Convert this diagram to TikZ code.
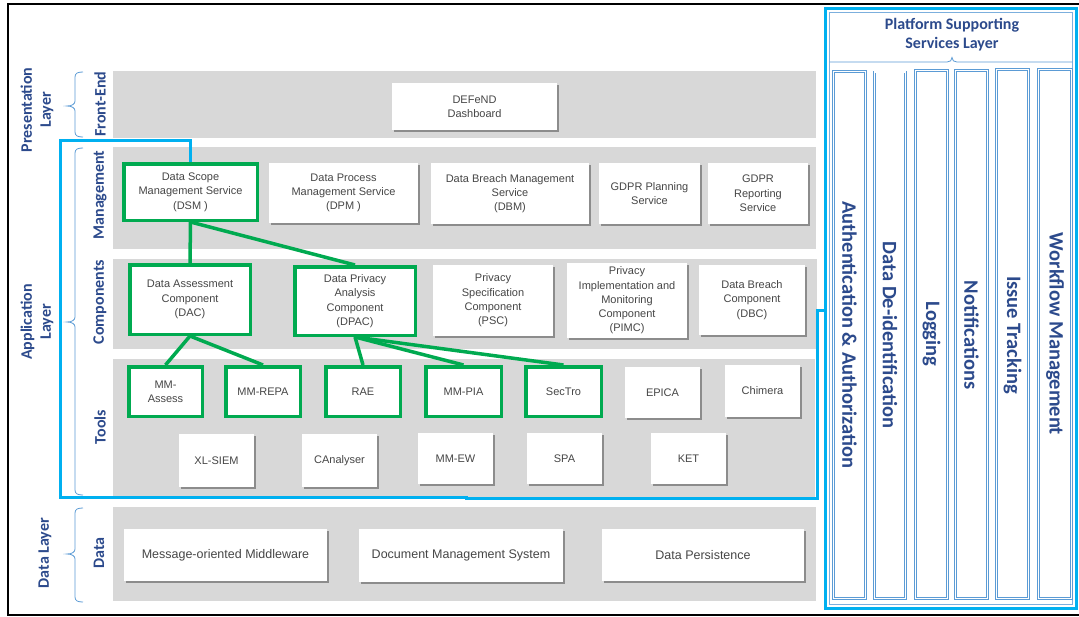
\documentclass[tikz,border=0pt]{standalone}
\usepackage{fontspec}
\setmainfont{Liberation Sans}
\newfontfamily\calib{Carlito}
\usetikzlibrary{shadows}
\definecolor{bandgray}{RGB}{216,216,216}
\definecolor{boxtext}{RGB}{70,70,70}
\definecolor{gbord}{RGB}{0,170,80}
\definecolor{skyblue}{RGB}{0,176,240}
\definecolor{lblue}{RGB}{91,155,213}
\definecolor{navy}{RGB}{44,74,140}
\tikzset{
  band/.style={fill=bandgray},
  wbox/.style={fill=white, draw=none, inner sep=0pt, align=center, text=boxtext,
    font=\fontsize{11}{14.3}\selectfont,
    drop shadow={shadow xshift=1.8pt, shadow yshift=-1.8pt, fill=black, opacity=0.35}},
  gbox/.style={fill=white, draw=gbord, line width=3.5pt, inner sep=0pt, align=center, text=boxtext,
    font=\fontsize{11}{14.3}\selectfont},
  dbox/.style={wbox, font=\fontsize{12.5}{15}\selectfont},
  conn/.style={draw=gbord, line width=3.5pt},
  bluepath/.style={draw=skyblue, line width=3pt},
  layerlbl/.style={text=navy, font=\calib\bfseries\fontsize{16}{19}\selectfont, align=center, rotate=90},
  collbl/.style={text=navy, font=\calib\bfseries\fontsize{20.5}{24}\selectfont, rotate=-90},
  colbox/.style={draw=lblue, double=white, double distance=1.2pt, line width=0.8pt},
  bracket/.style={draw=lblue, line width=0.8pt},
}
\begin{document}
\begin{tikzpicture}[x=1pt,y=-1pt]
\useasboundingbox (0,0) rectangle (1079,616);
\fill[white] (0,0) rectangle (1079,616);
% outer frame
\draw[black, line width=1.6pt] (1082,4) -- (8,4) -- (8,615) -- (1082,615);
% bands
\fill[band] (113,71) rectangle (816,138);
\fill[band] (113,147) rectangle (816,249);
\fill[band] (113,259) rectangle (817,349);
\fill[band] (113,359) rectangle (815,497);
\fill[band] (113,507) rectangle (816,601);
% left braces
\draw[bracket] (83,72) .. controls (78,72) and (75,73) .. (75,77) -- (75,101) .. controls (75,104) and (72,106) .. (67,106) .. controls (72,106) and (75,108) .. (75,111) -- (75,132) .. controls (75,136) and (78,137) .. (83,137);
\draw[bracket] (83,148) .. controls (78,148) and (75,149) .. (75,153) -- (75,317) .. controls (75,320) and (72,322) .. (67,322) .. controls (72,322) and (75,324) .. (75,327) -- (75,490) .. controls (75,494) and (78,495) .. (83,495);
\draw[bracket] (83,508) .. controls (78,508) and (75,509) .. (75,513) -- (75,549) .. controls (75,552) and (72,554) .. (67,554) .. controls (72,554) and (75,556) .. (75,559) -- (75,597) .. controls (75,601) and (78,602) .. (83,602);
% layer labels
\node[layerlbl] (lpres) at (37,110) {Presentation\\Layer};
\node[layerlbl] (lapp) at (37,322) {Application\\Layer};
\node[layerlbl] (ldata) at (45,553) {Data Layer};
\node[layerlbl] (lfe) at (100,104) {Front-End};
\node[layerlbl] (lmgmt) at (100,195) {Management};
\node[layerlbl] (lcomp) at (100,302) {Components};
\node[layerlbl] (ltools) at (100,427) {Tools};
\node[layerlbl] (ldat) at (99,553) {Data};
% application outline
\draw[bluepath] (190.5,163) -- (190.5,140) -- (60,140) -- (60,497) -- (466,497) -- (466,498.5) -- (817,498.5) -- (817,310) -- (827,310);
% front-end
\node[wbox, minimum width=165, minimum height=47] (dash) at (474.5,106.5) {DEFeND\\Dashboard};
% management
\node[gbox, minimum width=133.5, minimum height=56.5] (dsm) at (190.5,192) {Data Scope\\Management Service\\(DSM )};
\node[wbox, minimum width=149, minimum height=60] (dpm) at (343.5,193) {Data Process\\Management Service\\(DPM )};
\node[wbox, minimum width=158, minimum height=61] (dbm) at (510,193.5) {Data Breach Management\\Service\\(DBM)};
\node[wbox, minimum width=101, minimum height=61] (gps) at (649.5,193.5) {GDPR Planning\\Service};
\node[wbox, minimum width=100, minimum height=61] (grs) at (758,193.5) {GDPR\\Reporting\\Service};
% components
\node[gbox, minimum width=120.5, minimum height=69.5] (dac) at (190,299.5) {Data Assessment\\Component\\(DAC)};
\node[gbox, minimum width=120.5, minimum height=68.5] (dpac) at (355,301) {Data Privacy\\Analysis\\Component\\(DPAC)};
\node[wbox, minimum width=120, minimum height=71] (psc) at (493,300.5) {Privacy\\Specification\\Component\\(PSC)};
\node[wbox, minimum width=120, minimum height=75] (pimc) at (627,300.5) {Privacy\\Implementation and\\Monitoring\\Component\\(PIMC)};
\node[wbox, minimum width=106, minimum height=70] (dbc) at (752,300) {Data Breach\\Component\\(DBC)};
% tools row 1
\node[gbox, minimum width=73.5, minimum height=49.5] (mma) at (165.5,391.5) {MM-\\Assess};
\node[gbox, minimum width=74.5, minimum height=49.5] (mmrepa) at (263,391.5) {MM-REPA};
\node[gbox, minimum width=74.5, minimum height=49.5] (rae) at (363,391.5) {RAE};
\node[gbox, minimum width=75.5, minimum height=49.5] (mmpia) at (463.5,391.5) {MM-PIA};
\node[gbox, minimum width=75.5, minimum height=49.5] (sectro) at (563.5,391.5) {SecTro};
\node[wbox, minimum width=75, minimum height=51] (epica) at (662.5,392.5) {EPICA};
\node[wbox, minimum width=75, minimum height=52] (chimera) at (762.5,391) {Chimera};
% tools row 2
\node[wbox, minimum width=75, minimum height=53] (xlsiem) at (216.5,460.5) {XL-SIEM};
\node[wbox, minimum width=75, minimum height=53] (canal) at (339.5,460.5) {CAnalyser};
\node[wbox, minimum width=75, minimum height=51] (mmew) at (455.5,458.5) {MM-EW};
\node[wbox, minimum width=75, minimum height=51] (spa) at (564.5,458.5) {SPA};
\node[wbox, minimum width=75, minimum height=51] (ket) at (688.5,458.5) {KET};
% data
\node[dbox, minimum width=203, minimum height=52] (mom) at (225.5,555) {Message-oriented Middleware};
\node[dbox, minimum width=204, minimum height=53] (dms) at (461,555.5) {Document Management System};
\node[dbox, minimum width=202, minimum height=52] (dpers) at (703,555) {Data Persistence};
% green connectors
\draw[conn] (dsm.south) -- (dac.north);
\draw[conn] (dsm.south) -- (dpac.north);
\draw[conn] (dac.south) -- (mma.north);
\draw[conn] (dac.south) -- (mmrepa.north);
\draw[conn] (dpac.south) -- (rae.north);
\draw[conn] (dpac.south) -- (mmpia.north);
\draw[conn] (dpac.south) -- (sectro.north);
% platform panel
\fill[white] (825.5,8.5) rectangle (1076.5,608.5);
\draw[draw=lblue!80, line width=0.8pt] (829.5,12) rectangle (1072.5,604.5);
\draw[bluepath] (825.5,8.5) rectangle (1076.5,608.5);
\node[text=navy, font=\calib\bfseries\fontsize{16}{19}\selectfont, align=center] (phead) at (952,35) {Platform Supporting\\Services Layer};
\draw[bracket] (829.5,62) -- (947,62) .. controls (950,62) and (952,60.5) .. (952,57.5) .. controls (952,60.5) and (954,62) .. (957,62) -- (1072.5,62);
% columns
\draw[colbox] (833.5,71.5) rectangle (865.5,598.5);
\draw[colbox] (874.5,72) rectangle (905.5,598.5);
\draw[colbox] (915.5,70.5) rectangle (947.5,598.5);
\draw[colbox] (955.5,70.5) rectangle (987.5,598.5);
\draw[colbox] (996.5,69.5) rectangle (1028.5,598.5);
\draw[colbox] (1038.5,69.5) rectangle (1071.5,598.5);
\node[collbl] (c1) at (849.5,335) {Authentication \& Authorization};
\node[collbl] (c2) at (890,335) {Data De-identification};
\node[collbl] (c3) at (931.5,334) {Logging};
\node[collbl] (c4) at (971.5,335) {Notifications};
\node[collbl] (c5) at (1012.5,335) {Issue Tracking};
\node[collbl] (c6) at (1055,334) {Workflow Management};
\end{tikzpicture}
\end{document}
